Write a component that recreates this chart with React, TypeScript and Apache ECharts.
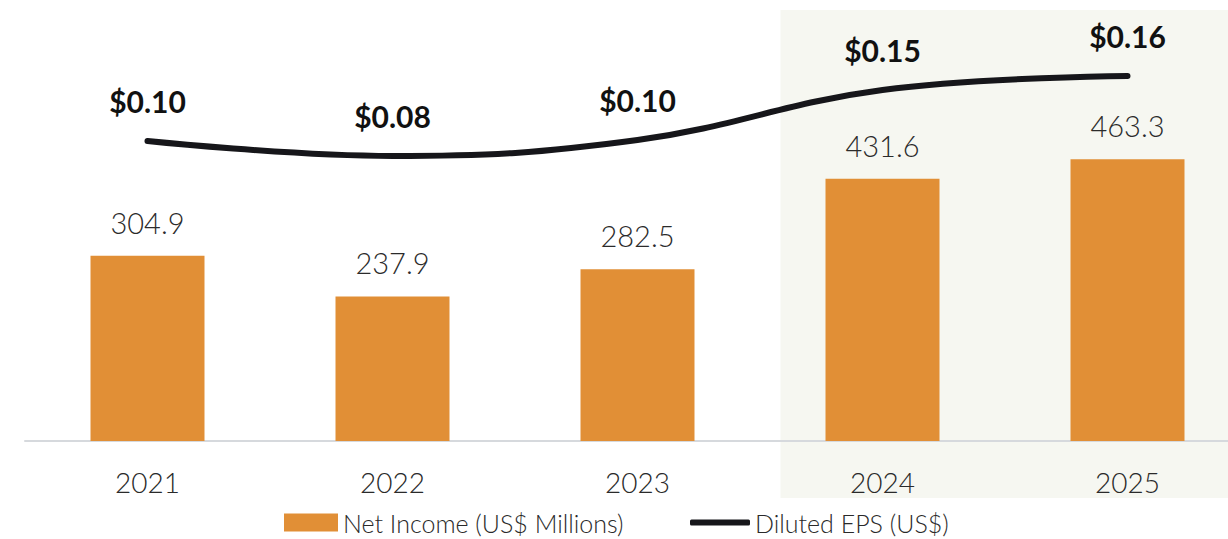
import React, { useEffect, useRef } from "react";
import * as echarts from "echarts";

const years = ["2021", "2022", "2023", "2024", "2025"];
const netIncome = [304.9, 237.9, 282.5, 431.6, 463.3];
const dilutedEps = [0.098, 0.083, 0.099, 0.149, 0.163];
const highlightFrom = "2024";
const seriesNames = ["Net Income (US$ Millions)", "Diluted EPS (US$)"];

const FONT = "Lato, 'Noto Sans', sans-serif";

export default function App() {
  const ref = useRef<HTMLDivElement>(null);
  useEffect(() => {
    document.body.style.margin = "0";
    document.body.style.overflow = "hidden";
    const chart = echarts.init(ref.current!, undefined, { renderer: "svg" });
    const legendText = { fontSize: 25, lineHeight: 25, color: "#2a2a2a", fontFamily: FONT, fontWeight: 300 };
    chart.setOption({
      animation: false,
      backgroundColor: "#ffffff",
      grid: { left: 25, right: 0, top: 10, bottom: 98 },
      legend: [
        {
          data: [seriesNames[0]],
          left: 284,
          top: 510,
          itemWidth: 54,
          itemHeight: 18,
          itemGap: 4,
          icon: "rect",
          textStyle: legendText,
          padding: 0,
        },
        {
          data: [seriesNames[1]],
          left: 690,
          top: 510,
          itemWidth: 60,
          itemHeight: 6,
          icon: "roundRect",
          textStyle: legendText,
          padding: 0,
        },
      ],
      xAxis: {
        type: "category",
        data: years,
        axisLine: { lineStyle: { color: "#d6d9dd", width: 2 } },
        axisTick: { show: false },
        axisLabel: { fontSize: 28, color: "#2a2a2a", fontFamily: FONT, fontWeight: 300, margin: 27 },
      },
      yAxis: [
        { type: "value", min: 0, max: 709, show: false },
        { type: "value", min: -0.202, max: 0.229, show: false },
      ],
      series: [
        {
          name: seriesNames[0],
          type: "bar",
          data: netIncome,
          barWidth: 114,
          itemStyle: { color: "#e18f36" },
          label: {
            show: true,
            position: "top",
            distance: 19,
            fontSize: 29,
            color: "#2b2b2b",
            fontFamily: FONT,
            fontWeight: 300,
            formatter: (p: any) => p.value.toFixed(1),
          },
          z: 2,
        },
        {
          name: seriesNames[1],
          type: "line",
          yAxisIndex: 1,
          data: dilutedEps,
          smooth: 0.4,
          symbol: "circle",
          symbolSize: 1,
          itemStyle: { color: "#16161a" },
          lineStyle: { color: "#16161a", width: 6, cap: "round" },
          label: {
            show: true,
            position: "top",
            distance: 25,
            fontSize: 30,
            color: "#111111",
            fontFamily: FONT,
            fontWeight: "bold",
            formatter: (p: any) => "$" + p.value.toFixed(2),
          },
          z: 3,
        },
      ],
    });
    const cx = chart.convertToPixel({ xAxisIndex: 0 }, highlightFrom) as number;
    chart.setOption({
      graphic: {
        elements: [
          {
            type: "rect",
            z: -100,
            silent: true,
            shape: { x: cx - 102, y: 10, width: 1250 - (cx - 102), height: 488 },
            style: { fill: "#f6f7f1" },
          },
        ],
      },
    });
    return () => chart.dispose();
  }, []);
  return <div ref={ref} style={{ width: 1250, height: 539 }} />;
}
